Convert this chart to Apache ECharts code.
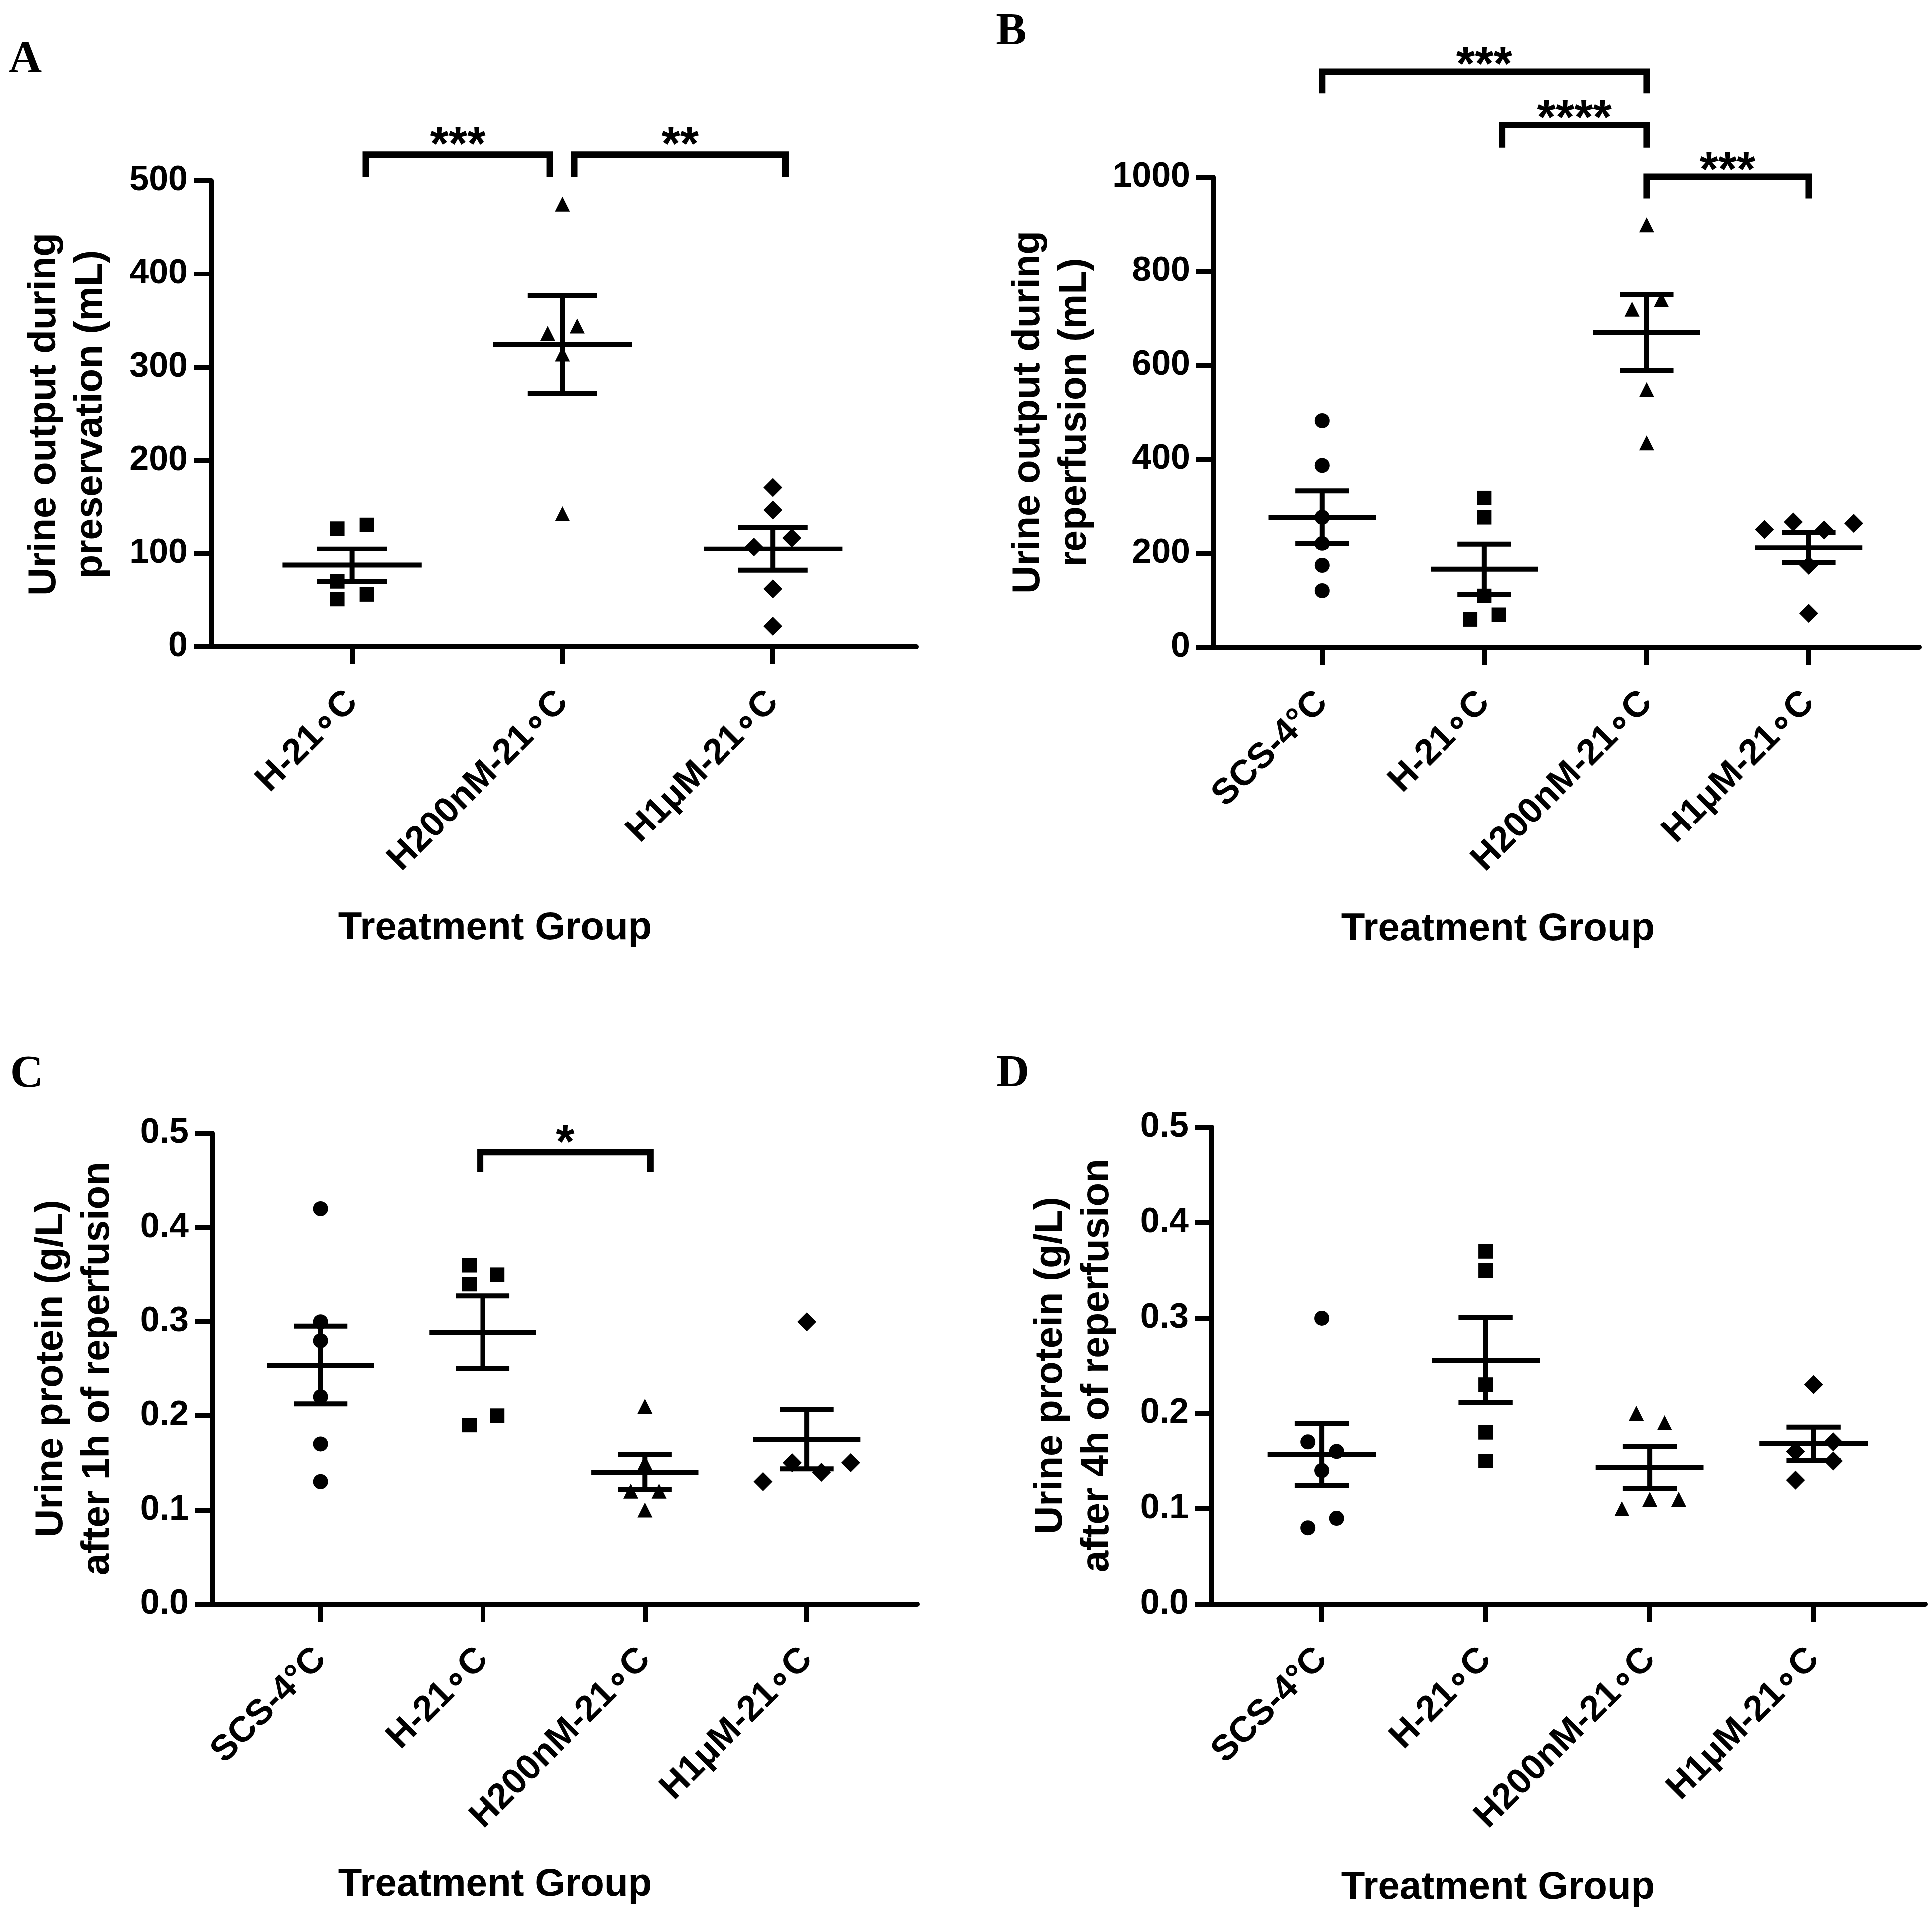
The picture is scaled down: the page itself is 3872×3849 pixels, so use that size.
<!DOCTYPE html>
<html>
<head>
<meta charset="utf-8">
<title>Urine output and protein by treatment group</title>
<script src="https://cdn.jsdelivr.net/npm/echarts@6/dist/echarts.min.js"></script>
<style>
  html, body { margin: 0; padding: 0; background: #fff; }
  #chart { width: 3872px; height: 3849px; }
</style>
</head>
<body>
<div id="chart"></div>
<script>
// groups (x categories)
const groupsA = ['H-21\u2218C', 'H200nM-21\u2218C', 'H1\u03bcM-21\u2218C'];
const groupsBCD = ['SCS-4\u00b0C', 'H-21\u2218C', 'H200nM-21\u2218C', 'H1\u03bcM-21\u2218C'];

// A - urine output during preservation (mL)
const presH21 = [127, 131, 70, 51, 56];
const presH200 = [475, 336, 344, 314, 143];
const presH1u = [171, 147, 107, 117, 62, 22];
const presMean = [87.5, 324, 105];
const presSem = [17.5, 52.5, 23];

// B - urine output during reperfusion (mL)
const repSCS = [482, 387, 277, 221, 174, 120];
const repH21 = [318, 277, 109, 59, 69];
const repH200 = [899, 719, 739, 548, 435];
const repH1u = [251, 267, 250, 264, 174, 72];
const repMean = [277, 166, 669, 212];
const repSem = [56, 54, 80.5, 32.5];

// C - urine protein after 1h (g/L)
const prot1SCS = [0.42, 0.30, 0.28, 0.22, 0.17, 0.13];
const prot1H21 = [0.36, 0.34, 0.35, 0.19, 0.20];
const prot1H200 = [0.21, 0.15, 0.12, 0.12, 0.10];
const prot1H1u = [0.30, 0.13, 0.15, 0.14, 0.15];
const prot1Mean = [0.254, 0.289, 0.140, 0.175];
const prot1Sem = [0.0415, 0.0385, 0.0185, 0.0315];

// D - urine protein after 4h (g/L)
const prot4SCS = [0.30, 0.17, 0.16, 0.14, 0.08, 0.09];
const prot4H21 = [0.37, 0.35, 0.23, 0.18, 0.15];
const prot4H200 = [0.20, 0.19, 0.10, 0.11, 0.11];
const prot4H1u = [0.23, 0.16, 0.17, 0.15, 0.13];
const prot4Mean = [0.157, 0.256, 0.143, 0.168];
const prot4Sem = [0.0325, 0.045, 0.022, 0.0175];

// significance brackets: [from, to, bar level, leg end, star level, stars]
const sigA = [[1.065, 1.94, 528, 504, 548, '***'], [2.056, 3.06, 528, 504, 548, '**']];
const sigB = [[1.0, 3.0, 1224, 1178, 1257, '***'], [2.11, 3.0, 1111, 1063, 1144, '****'], [3.0, 4.0, 1001, 955, 1034, '***']];
const sigC = [[1.985, 3.034, 0.480, 0.459, 0.499, '*']];
const sigD = [];

// horizontal scatter of the points inside a group (in category widths)
const jitA = [[-0.07, 0.07, -0.07, -0.07, 0.07], [0, -0.07, 0.07, 0, 0], [0, 0, -0.09, 0.09, 0, 0]];
const jitB = [[0, 0, 0, 0, 0, 0], [0, 0, 0, -0.087, 0.09], [0, -0.09, 0.09, 0, 0], [-0.273, -0.095, 0.095, 0.277, 0, 0]];
const jitC = [[0, 0, 0, 0, 0, 0], [-0.083, -0.083, 0.09, -0.083, 0.09], [0, 0, -0.087, 0.087, 0], [0, -0.27, -0.09, 0.09, 0.27]];
const jitD = [[0, -0.085, 0.09, 0, -0.085, 0.09], [0, 0, 0, 0, 0], [-0.082, 0.09, -0.17, 0, 0.176], [0, -0.11, 0.12, 0.12, -0.11]];

const FONT = '"Liberation Sans", Arial, Helvetica, sans-serif';
const SERIF = '"Liberation Serif", "Times New Roman", serif';
const BLACK = '#000';

const SYMBOLS = {
  'SCS-4\u00b0C': ['circle', 30],
  'H-21\u2218C': ['rect', 29],
  'H200nM-21\u2218C': ['triangle', [30, 30]],
  'H1\u03bcM-21\u2218C': ['diamond', 38]
};

const panels = [
  {
    letter: 'A', letterPos: [51, 121],
    grid: { left: 423, right: 2036, top: 362, bottom: 2553 },
    groups: groupsA, values: [presH21, presH200, presH1u], jitter: jitA,
    mean: presMean, sem: presSem, sig: sigA,
    yMax: 500, yStep: 100, dec: 0,
    yTitle: 'Urine output during\npreservation (mL)', yTitlePos: [136, 830],
    xTitlePos: [992, 1860]
  },
  {
    letter: 'B', letterPos: [2027, 65],
    grid: { left: 2432, right: 26, top: 355, bottom: 2552 },
    groups: groupsBCD, values: [repSCS, repH21, repH200, repH1u], jitter: jitB,
    mean: repMean, sem: repSem, sig: sigB,
    yMax: 1000, yStep: 200, dec: 0,
    yTitle: 'Urine output during\nreperfusion (mL)', yTitlePos: [2108, 826],
    xTitlePos: [3002, 1862]
  },
  {
    letter: 'C', letterPos: [54, 2153],
    grid: { left: 425, right: 2034, top: 2271, bottom: 635 },
    groups: groupsBCD, values: [prot1SCS, prot1H21, prot1H200, prot1H1u], jitter: jitC,
    mean: prot1Mean, sem: prot1Sem, sig: sigC,
    yMax: 0.5, yStep: 0.1, dec: 1,
    yTitle: 'Urine protein (g/L)\nafter 1h of reperfusion', yTitlePos: [150, 2742],
    xTitlePos: [992, 3776]
  },
  {
    letter: 'D', letterPos: [2030, 2152],
    grid: { left: 2429, right: 14, top: 2259, bottom: 635 },
    groups: groupsBCD, values: [prot4SCS, prot4H21, prot4H200, prot4H1u], jitter: jitD,
    mean: prot4Mean, sem: prot4Sem, sig: sigD,
    yMax: 0.5, yStep: 0.1, dec: 1,
    yTitle: 'Urine protein (g/L)\nafter 4h of reperfusion', yTitlePos: [2153, 2736],
    xTitlePos: [3002, 3782]
  }
];

// mean line with SEM whiskers
function meanSem(params, api) {
  const x = api.value(0), m = api.value(1), s = api.value(2);
  const c = api.coord([x, m]);
  const hi = api.coord([x, m + s]);
  const lo = api.coord([x, m - s]);
  const w = api.size([0.33, 0])[0];
  const cw = api.size([0.165, 0])[0];
  const st = { stroke: BLACK, lineWidth: 10, fill: null };
  return {
    type: 'group',
    children: [
      { type: 'line', shape: { x1: c[0] - w, y1: c[1], x2: c[0] + w, y2: c[1] }, style: st },
      { type: 'line', shape: { x1: hi[0], y1: hi[1], x2: lo[0], y2: lo[1] }, style: st },
      { type: 'line', shape: { x1: hi[0] - cw, y1: hi[1], x2: hi[0] + cw, y2: hi[1] }, style: st },
      { type: 'line', shape: { x1: lo[0] - cw, y1: lo[1], x2: lo[0] + cw, y2: lo[1] }, style: st }
    ]
  };
}

function bracketRenderer(sig) {
  return function (params, api) {
    const b = sig[params.dataIndex];
    const a0 = api.coord([b[0], b[3]]);
    const a1 = api.coord([b[0], b[2]]);
    const a2 = api.coord([b[1], b[2]]);
    const a3 = api.coord([b[1], b[3]]);
    const t = api.coord([(b[0] + b[1]) / 2, b[4]]);
    const fs = 96;
    return {
      type: 'group',
      children: [
        {
          type: 'polyline',
          shape: { points: [a0, a1, a2, a3] },
          style: { stroke: BLACK, lineWidth: 13, fill: null, lineJoin: 'miter' }
        },
        {
          type: 'text', x: t[0], y: t[1] + 0.22 * fs,
          style: {
            text: b[5], fill: BLACK, fontSize: fs, fontWeight: 'bold', fontFamily: FONT,
            align: 'center', verticalAlign: 'middle'
          }
        }
      ]
    };
  };
}

const grids = [], xAxes = [], yAxes = [], series = [], graphics = [];

panels.forEach((p, k) => {
  const n = p.groups.length;
  const pos = p.groups.map((g, i) => i + 1);
  grids.push(Object.assign({ containLabel: false, outerBoundsMode: 'none' }, p.grid));

  xAxes.push({
    gridIndex: k, type: 'value', min: 0.33, max: n + 0.68,
    axisLine: { show: true, onZero: false, lineStyle: { color: BLACK, width: 10 } },
    axisTick: { show: true, customValues: pos, length: 35, lineStyle: { color: BLACK, width: 10 } },
    axisLabel: {
      customValues: pos, rotate: 45, margin: 100,
      formatter: v => p.groups[Math.round(v) - 1] || '',
      color: BLACK, fontSize: 72, fontWeight: 'bold', fontFamily: FONT
    },
    splitLine: { show: false }
  });

  yAxes.push({
    gridIndex: k, type: 'value', min: 0, max: p.yMax, interval: p.yStep,
    axisLine: { show: true, lineStyle: { color: BLACK, width: 10 } },
    axisTick: { show: true, length: 35, lineStyle: { color: BLACK, width: 10 } },
    axisLabel: {
      margin: 47, formatter: v => v.toFixed(p.dec),
      color: BLACK, fontSize: 70, fontWeight: 'bold', fontFamily: FONT
    },
    splitLine: { show: false }
  });

  p.values.forEach((vals, i) => {
    const sym = SYMBOLS[p.groups[i]];
    series.push({
      type: 'scatter', xAxisIndex: k, yAxisIndex: k,
      symbol: sym[0], symbolSize: sym[1],
      itemStyle: { color: BLACK, opacity: 1 },
      silent: true, z: 3,
      data: vals.map((v, j) => [i + 1 + p.jitter[i][j], v])
    });
  });

  series.push({
    type: 'custom', xAxisIndex: k, yAxisIndex: k, silent: true, z: 4,
    renderItem: meanSem,
    data: p.mean.map((m, i) => [i + 1, m, p.sem[i]])
  });

  if (p.sig.length) {
    series.push({
      type: 'custom', xAxisIndex: k, yAxisIndex: k, silent: true, z: 5, clip: false,
      renderItem: bracketRenderer(p.sig),
      data: p.sig.map(s => [s[0], s[2]])
    });
  }

  graphics.push({
    type: 'text', x: p.letterPos[0], y: p.letterPos[1],
    style: { text: p.letter, fill: BLACK, fontSize: 92, fontWeight: 'bold', fontFamily: SERIF,
      align: 'center', verticalAlign: 'middle' }
  });
  graphics.push({
    type: 'text', x: p.xTitlePos[0], y: p.xTitlePos[1],
    style: { text: 'Treatment Group', fill: BLACK, fontSize: 78, fontWeight: 'bold', fontFamily: FONT,
      align: 'center', verticalAlign: 'middle' }
  });
  graphics.push({
    type: 'text', x: p.yTitlePos[0], y: p.yTitlePos[1], rotation: Math.PI / 2,
    style: { text: p.yTitle, fill: BLACK, fontSize: 78, fontWeight: 'bold', fontFamily: FONT,
      lineHeight: 93, align: 'center', verticalAlign: 'middle' }
  });
});

const chart = echarts.init(document.getElementById('chart'));
chart.setOption({
  backgroundColor: '#fff',
  animation: false,
  grid: grids,
  xAxis: xAxes,
  yAxis: yAxes,
  series: series,
  graphic: graphics
});
</script>
</body>
</html>
